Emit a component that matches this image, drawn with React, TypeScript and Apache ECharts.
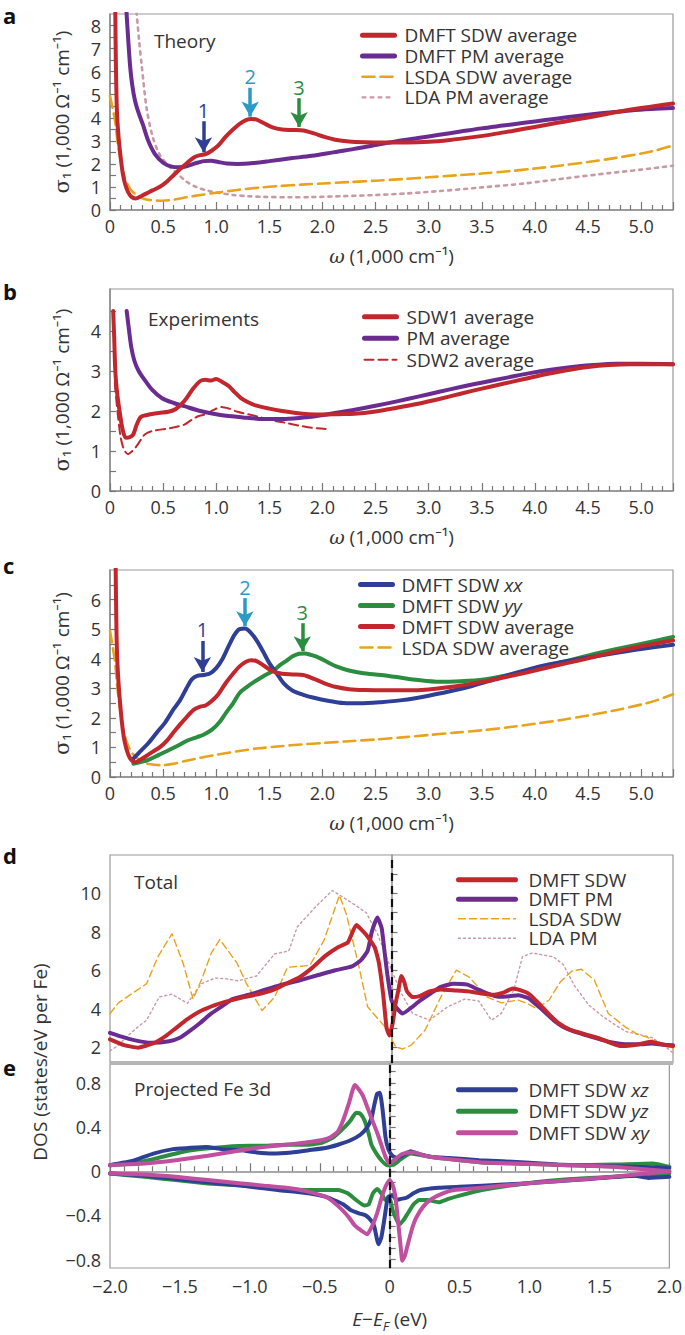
import React, { useEffect, useRef } from 'react';
import * as echarts from 'echarts';

// ---------- data: panel a (theory) ----------
const SDW_AVG: number[][] = [
  [0.05, 8.6], [0.055, 6.5], [0.065, 4.3], [0.08, 3.2], [0.1, 2.3], [0.12, 1.6], [0.14, 1.16], [0.17, 0.78], [0.2, 0.58], [0.24, 0.5],
  [0.3, 0.62], [0.345, 0.72], [0.4, 0.85], [0.47, 1.01], [0.54, 1.25], [0.6, 1.52], [0.66, 1.78], [0.72, 2.02], [0.79, 2.28], [0.85, 2.38],
  [0.9, 2.42], [0.96, 2.58], [1.02, 2.8], [1.09, 3.18], [1.16, 3.5], [1.22, 3.74], [1.28, 3.9], [1.33, 3.95], [1.38, 3.92], [1.45, 3.76],
  [1.53, 3.58], [1.62, 3.49], [1.72, 3.47], [1.82, 3.45], [1.92, 3.32], [2.02, 3.17], [2.12, 3.05], [2.25, 2.97], [2.4, 2.94], [2.6, 2.93],
  [2.8, 2.93], [3.0, 2.96], [3.2, 3.04], [3.4, 3.15], [3.6, 3.28], [3.8, 3.44], [4.0, 3.6], [4.2, 3.77], [4.4, 3.93], [4.6, 4.1],
  [4.8, 4.27], [5.0, 4.42], [5.15, 4.52], [5.3, 4.62],
];
const PM_AVG: number[][] = [
  [0.155, 8.6], [0.17, 7.5], [0.19, 6.2], [0.21, 5.4], [0.235, 4.75], [0.27, 4.2], [0.31, 3.7], [0.36, 3.0], [0.42, 2.45], [0.5, 2.05],
  [0.58, 1.88], [0.65, 1.85], [0.72, 1.9], [0.8, 2.02], [0.88, 2.12], [0.95, 2.14], [1.02, 2.08], [1.1, 2.02], [1.2, 2.0], [1.35, 2.04],
  [1.5, 2.12], [1.7, 2.24], [1.9, 2.35], [2.1, 2.5], [2.3, 2.65], [2.5, 2.82], [2.7, 2.98], [2.9, 3.12], [3.1, 3.26], [3.3, 3.4],
  [3.5, 3.54], [3.7, 3.66], [3.9, 3.78], [4.1, 3.9], [4.3, 4.02], [4.5, 4.13], [4.7, 4.23], [4.9, 4.32], [5.1, 4.38], [5.3, 4.42],
];
const LSDA_AVG: number[][] = [
  [0.0, 4.95], [0.025, 4.4], [0.047, 3.9], [0.07, 3.0], [0.094, 2.31], [0.125, 1.6], [0.16, 1.16], [0.2, 0.85], [0.25, 0.65], [0.31, 0.5],
  [0.38, 0.43], [0.5, 0.4], [0.6, 0.45], [0.72, 0.55], [0.85, 0.65], [1.0, 0.75], [1.2, 0.87], [1.4, 0.97], [1.6, 1.04], [1.8, 1.1],
  [2.0, 1.15], [2.25, 1.21], [2.5, 1.27], [2.75, 1.34], [3.0, 1.42], [3.25, 1.5], [3.5, 1.58], [3.75, 1.68], [4.0, 1.8], [4.25, 1.93],
  [4.5, 2.08], [4.75, 2.25], [5.0, 2.45], [5.15, 2.6], [5.3, 2.8],
];
const LDA_AVG: number[][] = [
  [0.25, 8.6], [0.275, 7.3], [0.3, 6.2], [0.345, 4.4], [0.4, 3.2], [0.47, 2.38], [0.56, 1.88], [0.64, 1.55], [0.72, 1.23], [0.8, 1.02],
  [0.91, 0.85], [1.03, 0.74], [1.16, 0.65], [1.3, 0.6], [1.45, 0.57], [1.7, 0.55], [1.9, 0.56], [2.2, 0.6], [2.5, 0.65], [2.8, 0.72],
  [3.1, 0.82], [3.5, 0.98], [3.9, 1.15], [4.3, 1.38], [4.7, 1.6], [5.0, 1.75], [5.3, 1.92],
];

// ---------- data: panel b (experiments) ----------
const EXP_SDW1: number[][] = [
  [0.03, 4.5], [0.04, 3.8], [0.05, 3.0], [0.065, 2.5], [0.09, 2.0], [0.12, 1.52], [0.15, 1.33], [0.19, 1.35], [0.22, 1.42], [0.25, 1.65],
  [0.29, 1.85], [0.35, 1.9], [0.46, 1.95], [0.55, 1.98], [0.62, 2.05], [0.7, 2.25], [0.78, 2.55], [0.85, 2.75], [0.9, 2.78], [0.95, 2.76],
  [1.0, 2.8], [1.06, 2.72], [1.12, 2.62], [1.17, 2.48], [1.23, 2.33], [1.3, 2.22], [1.37, 2.14], [1.5, 2.06], [1.62, 2.0], [1.75, 1.95],
  [1.87, 1.92], [2.0, 1.91], [2.15, 1.92], [2.3, 1.93], [2.5, 1.99], [2.7, 2.08], [2.9, 2.18], [3.1, 2.3], [3.3, 2.43], [3.5, 2.56],
  [3.7, 2.68], [3.9, 2.8], [4.1, 2.92], [4.3, 3.02], [4.5, 3.1], [4.7, 3.15], [4.9, 3.17], [5.1, 3.17], [5.3, 3.17],
];
const EXP_PM: number[][] = [
  [0.157, 4.5], [0.18, 4.0], [0.2, 3.6], [0.23, 3.25], [0.27, 3.0], [0.32, 2.8], [0.4, 2.52], [0.49, 2.32], [0.6, 2.2], [0.7, 2.12],
  [0.85, 2.0], [1.04, 1.9], [1.25, 1.84], [1.45, 1.8], [1.65, 1.8], [1.87, 1.85], [2.05, 1.92], [2.28, 2.02], [2.5, 2.13], [2.7, 2.24],
  [2.9, 2.36], [3.1, 2.48], [3.3, 2.6], [3.52, 2.72], [3.75, 2.84], [3.94, 2.94], [4.15, 3.03], [4.35, 3.1], [4.55, 3.15], [4.77, 3.18],
  [5.0, 3.18], [5.3, 3.17],
];
const EXP_SDW2: number[][] = [
  [0.045, 2.7], [0.07, 2.0], [0.1, 1.35], [0.13, 1.05], [0.17, 0.92], [0.21, 1.0], [0.25, 1.12], [0.29, 1.28], [0.33, 1.42], [0.4, 1.5],
  [0.54, 1.56], [0.62, 1.6], [0.7, 1.66], [0.77, 1.78], [0.83, 1.87], [0.9, 1.92], [0.97, 2.02], [1.05, 2.1], [1.12, 2.06], [1.2, 1.98],
  [1.3, 1.92], [1.42, 1.84], [1.54, 1.76], [1.66, 1.7], [1.79, 1.63], [1.9, 1.58], [2.03, 1.55],
];

// ---------- data: panel c (anisotropy) ----------
const SDW_XX: number[][] = [
  [0.22, 0.62], [0.28, 0.85], [0.36, 1.14], [0.44, 1.5], [0.52, 1.85], [0.6, 2.3], [0.66, 2.6], [0.72, 3.0], [0.77, 3.3], [0.82, 3.42],
  [0.88, 3.45], [0.94, 3.5], [1.0, 3.68], [1.06, 4.0], [1.12, 4.45], [1.17, 4.8], [1.22, 5.0], [1.27, 5.02], [1.32, 4.9], [1.38, 4.62],
  [1.44, 4.25], [1.5, 3.85], [1.57, 3.5], [1.64, 3.15], [1.72, 2.92], [1.82, 2.78], [1.92, 2.68], [2.05, 2.58], [2.2, 2.5], [2.35, 2.49],
  [2.55, 2.53], [2.75, 2.6], [3.0, 2.75], [3.2, 2.9], [3.4, 3.07], [3.6, 3.28], [3.8, 3.5], [4.0, 3.7], [4.2, 3.85], [4.4, 3.98],
  [4.6, 4.1], [4.8, 4.22], [5.0, 4.33], [5.3, 4.47],
];
const SDW_YY: number[][] = [
  [0.22, 0.45], [0.28, 0.5], [0.36, 0.58], [0.46, 0.75], [0.56, 0.92], [0.66, 1.1], [0.74, 1.25], [0.82, 1.35], [0.88, 1.43], [0.96, 1.6],
  [1.03, 1.85], [1.09, 2.16], [1.16, 2.5], [1.22, 2.84], [1.29, 3.05], [1.35, 3.2], [1.44, 3.4], [1.53, 3.58], [1.6, 3.78], [1.66, 3.93],
  [1.72, 4.08], [1.78, 4.17], [1.83, 4.18], [1.9, 4.12], [1.97, 4.03], [2.05, 3.88], [2.13, 3.74], [2.25, 3.6], [2.37, 3.52], [2.55, 3.45],
  [2.7, 3.38], [2.9, 3.28], [3.1, 3.22], [3.3, 3.24], [3.52, 3.3], [3.75, 3.45], [3.94, 3.62], [4.15, 3.8], [4.35, 3.97], [4.55, 4.15],
  [4.77, 4.33], [5.0, 4.5], [5.3, 4.74],
];

// ---------- data: panel d (total DOS) ----------
const DOS_SDW: number[][] = [
  [-2.0, 2.4], [-1.9, 2.1], [-1.8, 1.97], [-1.69, 2.2], [-1.6, 2.6], [-1.53, 3.0], [-1.45, 3.45], [-1.37, 3.83], [-1.25, 4.2], [-1.15, 4.42],
  [-1.06, 4.58], [-0.95, 4.75], [-0.84, 4.98], [-0.75, 5.3], [-0.65, 5.65], [-0.56, 6.15], [-0.47, 6.75], [-0.38, 7.2], [-0.31, 7.45], [-0.25, 8.35],
  [-0.18, 7.85], [-0.12, 7.2], [-0.09, 6.4], [-0.06, 4.8], [-0.035, 3.0], [-0.015, 2.6], [0.01, 3.3], [0.03, 4.3], [0.05, 5.0], [0.07, 5.7],
  [0.09, 5.4], [0.11, 4.9], [0.15, 4.6], [0.2, 4.65], [0.27, 4.9], [0.35, 5.0], [0.45, 4.95], [0.54, 4.9], [0.63, 4.8], [0.72, 4.72],
  [0.8, 4.85], [0.86, 5.05], [0.92, 4.95], [0.98, 4.75], [1.05, 4.25], [1.12, 3.7], [1.19, 3.23], [1.27, 2.9], [1.35, 2.72], [1.43, 2.55],
  [1.51, 2.36], [1.57, 2.18], [1.63, 2.05], [1.7, 2.08], [1.76, 2.15], [1.84, 2.28], [1.92, 2.15], [2.0, 2.05],
];
const DOS_PM: number[][] = [
  [-2.0, 2.74], [-1.9, 2.5], [-1.83, 2.36], [-1.71, 2.22], [-1.58, 2.3], [-1.5, 2.5], [-1.44, 2.8], [-1.36, 3.25], [-1.28, 3.75], [-1.2, 4.15],
  [-1.13, 4.5], [-1.0, 4.75], [-0.91, 4.96], [-0.78, 5.25], [-0.65, 5.48], [-0.52, 5.75], [-0.4, 6.0], [-0.28, 6.2], [-0.22, 6.5], [-0.17, 7.0],
  [-0.14, 8.0], [-0.1, 8.74], [-0.07, 8.2], [-0.05, 7.0], [-0.03, 5.8], [0.0, 4.44], [0.04, 4.0], [0.08, 3.75], [0.14, 4.05], [0.2, 4.4],
  [0.28, 4.8], [0.35, 5.13], [0.44, 5.3], [0.54, 5.25], [0.6, 5.05], [0.68, 4.8], [0.76, 4.62], [0.84, 4.65], [0.9, 4.7], [0.97, 4.55],
  [1.03, 4.2], [1.1, 3.75], [1.16, 3.35], [1.22, 3.05], [1.3, 2.8], [1.38, 2.62], [1.46, 2.45], [1.54, 2.28], [1.6, 2.2], [1.67, 2.15],
  [1.76, 2.15], [1.85, 2.18], [1.93, 2.12], [2.0, 2.1],
];
const DOS_LSDA: number[][] = [
  [-2.0, 3.75], [-1.94, 4.3], [-1.88, 4.6], [-1.81, 4.95], [-1.74, 5.3], [-1.66, 6.7], [-1.56, 7.9], [-1.48, 6.35], [-1.41, 4.5], [-1.35, 5.5],
  [-1.28, 6.9], [-1.22, 7.6], [-1.17, 7.1], [-1.1, 6.4], [-1.03, 5.3], [-0.92, 3.9], [-0.83, 4.6], [-0.74, 6.15], [-0.66, 6.2], [-0.58, 6.25],
  [-0.48, 7.55], [-0.37, 9.9], [-0.32, 8.9], [-0.23, 6.15], [-0.17, 4.1], [-0.1, 3.5], [-0.04, 3.0], [0.03, 2.0], [0.08, 1.9], [0.14, 2.1],
  [0.24, 2.9], [0.35, 4.6], [0.46, 6.0], [0.55, 5.65], [0.62, 5.1], [0.68, 4.6], [0.78, 4.3], [0.9, 4.45], [0.97, 4.25], [1.03, 4.0],
  [1.12, 4.45], [1.2, 5.4], [1.28, 5.95], [1.35, 6.05], [1.44, 5.5], [1.54, 3.75], [1.66, 3.05], [1.74, 2.7], [1.82, 2.5], [1.9, 2.2],
  [1.98, 2.0], [2.0, 1.9],
];
const DOS_LDA: number[][] = [
  [-2.0, 1.8], [-1.94, 2.1], [-1.88, 2.54], [-1.81, 3.0], [-1.74, 3.4], [-1.65, 4.61], [-1.56, 4.75], [-1.5, 4.5], [-1.45, 4.27], [-1.4, 4.8],
  [-1.35, 5.3], [-1.25, 5.6], [-1.17, 5.55], [-1.09, 5.45], [-0.96, 5.7], [-0.83, 6.85], [-0.73, 7.0], [-0.67, 8.25], [-0.54, 9.3], [-0.42, 10.15],
  [-0.29, 9.55], [-0.18, 9.0], [-0.1, 7.9], [-0.01, 6.2], [0.07, 4.8], [0.15, 3.75], [0.27, 3.4], [0.4, 4.1], [0.52, 4.5], [0.62, 4.4],
  [0.71, 3.4], [0.78, 3.75], [0.87, 5.0], [0.93, 6.7], [1.0, 6.9], [1.15, 6.7], [1.22, 6.3], [1.3, 5.2], [1.4, 4.2], [1.5, 3.6],
  [1.6, 3.1], [1.67, 2.8], [1.76, 2.65], [1.85, 2.5], [1.93, 2.1], [2.0, 1.7],
];

// ---------- data: panel e (projected Fe 3d, spin up > 0, spin down < 0) ----------
const XZ_UP: number[][] = [
  [-2.0, 0.055], [-1.85, 0.09], [-1.69, 0.16], [-1.55, 0.2], [-1.44, 0.21], [-1.31, 0.22], [-1.2, 0.2], [-1.06, 0.19], [-0.95, 0.17], [-0.84, 0.16],
  [-0.7, 0.17], [-0.58, 0.19], [-0.46, 0.21], [-0.37, 0.24], [-0.28, 0.28], [-0.21, 0.33], [-0.16, 0.4], [-0.13, 0.48], [-0.11, 0.6], [-0.09, 0.7],
  [-0.07, 0.71], [-0.05, 0.55], [-0.03, 0.31], [-0.01, 0.2], [0.02, 0.14], [0.05, 0.12], [0.1, 0.15], [0.15, 0.18], [0.2, 0.16], [0.3, 0.13],
  [0.42, 0.12], [0.64, 0.1], [0.97, 0.08], [1.2, 0.06], [1.44, 0.05], [1.75, 0.04], [2.0, 0.03],
];
const YZ_UP: number[][] = [
  [-2.0, 0.055], [-1.85, 0.07], [-1.69, 0.11], [-1.5, 0.17], [-1.35, 0.2], [-1.18, 0.22], [-1.0, 0.23], [-0.9, 0.23], [-0.75, 0.24], [-0.58, 0.24],
  [-0.48, 0.26], [-0.4, 0.31], [-0.33, 0.39], [-0.28, 0.46], [-0.24, 0.53], [-0.21, 0.52], [-0.18, 0.46], [-0.15, 0.34], [-0.13, 0.24], [-0.09, 0.15],
  [-0.06, 0.1], [-0.02, 0.055], [0.03, 0.06], [0.08, 0.11], [0.15, 0.16], [0.25, 0.14], [0.35, 0.12], [0.5, 0.1], [0.66, 0.08], [0.9, 0.07],
  [1.27, 0.055], [1.6, 0.06], [1.88, 0.07], [2.0, 0.04],
];
const XY_UP: number[][] = [
  [-2.0, 0.055], [-1.75, 0.07], [-1.53, 0.1], [-1.3, 0.14], [-1.06, 0.19], [-0.9, 0.22], [-0.74, 0.24], [-0.6, 0.26], [-0.49, 0.28], [-0.42, 0.31],
  [-0.37, 0.36], [-0.33, 0.47], [-0.29, 0.62], [-0.25, 0.78], [-0.22, 0.74], [-0.19, 0.68], [-0.16, 0.58], [-0.13, 0.48], [-0.09, 0.35], [-0.06, 0.24],
  [-0.03, 0.13], [0.0, 0.07], [0.04, 0.11], [0.08, 0.15], [0.13, 0.17], [0.18, 0.17], [0.25, 0.14], [0.35, 0.12], [0.5, 0.1], [0.66, 0.08],
  [1.0, 0.065], [1.27, 0.055], [1.6, 0.04], [2.0, 0.0],
];
const XZ_DN: number[][] = [
  [-2.0, -0.02], [-1.75, -0.04], [-1.53, -0.07], [-1.3, -0.1], [-1.06, -0.13], [-0.8, -0.17], [-0.58, -0.2], [-0.46, -0.23], [-0.4, -0.26], [-0.33, -0.3],
  [-0.28, -0.35], [-0.22, -0.38], [-0.17, -0.4], [-0.13, -0.45], [-0.11, -0.5], [-0.09, -0.62], [-0.08, -0.66], [-0.06, -0.6], [-0.04, -0.45], [-0.02, -0.28],
  [-0.01, -0.23], [0.02, -0.22], [0.05, -0.26], [0.08, -0.25], [0.12, -0.24], [0.17, -0.2], [0.22, -0.17], [0.35, -0.15], [0.5, -0.14], [0.66, -0.13],
  [0.97, -0.11], [1.2, -0.09], [1.44, -0.07], [1.75, -0.04], [1.85, -0.06], [2.0, -0.05],
];
const YZ_DN: number[][] = [
  [-2.0, -0.02], [-1.75, -0.05], [-1.53, -0.08], [-1.3, -0.11], [-1.06, -0.13], [-0.8, -0.16], [-0.58, -0.17], [-0.45, -0.17], [-0.37, -0.17], [-0.3, -0.2],
  [-0.24, -0.26], [-0.18, -0.31], [-0.15, -0.3], [-0.12, -0.2], [-0.09, -0.16], [-0.06, -0.2], [-0.03, -0.26], [0.0, -0.25], [0.02, -0.35], [0.05, -0.44],
  [0.07, -0.48], [0.1, -0.44], [0.13, -0.38], [0.17, -0.3], [0.21, -0.26], [0.27, -0.26], [0.35, -0.28], [0.42, -0.25], [0.5, -0.22], [0.66, -0.17],
  [0.97, -0.11], [1.3, -0.07], [1.6, -0.05], [2.0, -0.02],
];
const XY_DN: number[][] = [
  [-2.0, -0.02], [-1.75, -0.03], [-1.53, -0.05], [-1.3, -0.08], [-1.06, -0.11], [-0.9, -0.13], [-0.74, -0.15], [-0.6, -0.18], [-0.46, -0.23], [-0.4, -0.28],
  [-0.34, -0.35], [-0.29, -0.42], [-0.25, -0.49], [-0.2, -0.54], [-0.16, -0.57], [-0.12, -0.48], [-0.09, -0.38], [-0.06, -0.25], [-0.03, -0.14], [0.0, -0.08],
  [0.02, -0.12], [0.04, -0.22], [0.06, -0.45], [0.08, -0.7], [0.09, -0.81], [0.11, -0.76], [0.13, -0.66], [0.16, -0.52], [0.19, -0.42], [0.24, -0.32],
  [0.3, -0.25], [0.38, -0.2], [0.46, -0.17], [0.66, -0.15], [0.97, -0.11], [1.3, -0.08], [1.6, -0.05], [2.0, 0.0],
];

// ---------- tick labels ----------
const Y_LABELS_A = [0, 1, 2, 3, 4, 5, 6, 7, 8];
const Y_TICKS_A = [0, 0.5, 1, 1.5, 2, 2.5, 3, 3.5, 4, 4.5, 5, 5.5, 6, 6.5, 7, 7.5, 8];
const Y_LABELS_B = [0, 1, 2, 3, 4];
const Y_TICKS_B = [0, 0.5, 1, 1.5, 2, 2.5, 3, 3.5, 4, 4.5];
const Y_LABELS_C = [0, 1, 2, 3, 4, 5, 6];
const Y_TICKS_C = [0, 0.5, 1, 1.5, 2, 2.5, 3, 3.5, 4, 4.5, 5, 5.5, 6, 6.5];
const Y_LABELS_D = [2, 4, 6, 8, 10];
const Y_TICKS_D = [2, 3, 4, 5, 6, 7, 8, 9, 10, 11];
const Y_LABELS_E = [-0.8, -0.4, 0, 0.4, 0.8];
const Y_TICKS_E = [-0.8, -0.7, -0.6, -0.5, -0.4, -0.3, -0.2, -0.1, 0, 0.1, 0.2, 0.3, 0.4, 0.5, 0.6, 0.7, 0.8, 0.9];

// arrows: [x, yTop, yTip, label]
const ARROWS_A: (number | string)[][] = [[0.88, 3.85, 2.5, '1'], [1.32, 5.3, 4.05, '2'], [1.78, 4.85, 3.6, '3']];
const ARROWS_C: (number | string)[][] = [[0.87, 4.6, 3.55, '1'], [1.27, 6.05, 5.1, '2'], [1.81, 5.2, 4.25, '3']];

// ---------- styles ----------
const FONT = '"Open Sans", "Noto Sans", sans-serif';
const TXT = '#333333';
const RED = '#c1272d';
const PURPLE = '#6a2c91';
const ORANGE = '#e8a31c';
const PINK = '#c99aa6';
const BLUE = '#2e3f95';
const GREEN = '#2b8d3f';
const MAGENTA = '#c0509f';
const LBLUE = '#2a9bc6';
const ARROW_COLORS = [BLUE, LBLUE, GREEN];

const GRIDS = [
  { top: 14, height: 196 },
  { top: 289, height: 202 },
  { top: 570, height: 207 },
  { top: 855, height: 208 },
  { top: 1064, height: 204 },
];

const fmtNum = (v: number) => (v === 0 ? '0' : (v < 0 ? '\u2212' : '') + Math.abs(v).toFixed(1));

function buildOption() {
  const axisLine = { show: true, lineStyle: { color: '#8a8a8a', width: 1.5 } };
  const tickStyle = { color: '#777', width: 1.2 };
  const omegaName = {
    name: '{w|\u03c9} (1,000 cm\u207b\u00b9)',
    nameLocation: 'middle',
    nameGap: 36,
    nameTextStyle: {
      fontSize: 19, color: TXT, fontFamily: FONT,
      rich: { w: { fontFamily: '"DejaVu Serif", serif', fontStyle: 'italic', fontSize: 19, color: TXT } },
    },
  };
  const sigmaName = {
    name: '{s|\u03c3}\u2081 (1,000 \u03a9\u207b\u00b9 cm\u207b\u00b9)',
    nameLocation: 'middle',
    nameGap: 38,
    nameTextStyle: {
      fontSize: 19, color: TXT, fontFamily: FONT,
      rich: { s: { fontFamily: '"DejaVu Serif", serif', fontSize: 21, color: TXT } },
    },
  };
  const omegaX = (i: number) => ({
    type: 'value', gridIndex: i, min: 0, max: 5.3, interval: 0.5,
    axisLine, splitLine: { show: false }, minorSplitLine: { show: false },
    axisTick: { show: true, inside: true, length: 8, lineStyle: tickStyle },
    minorTick: { show: true, splitNumber: 5, length: 5, lineStyle: tickStyle },
    axisLabel: { fontSize: 18, color: TXT, fontFamily: FONT, margin: 7, showMaxLabel: false, formatter: (v: number) => fmtNum(v) },
    ...omegaName,
  });
  const yAx = (i: number, min: number, max: number, labels: number[], ticks: number[], fmt: (v: number) => string, extra: any = {}) => ({
    type: 'value', gridIndex: i, min, max,
    axisLine, splitLine: { show: false },
    axisTick: { show: true, inside: true, length: 6, lineStyle: tickStyle, customValues: ticks },
    axisLabel: { fontSize: 18, color: TXT, fontFamily: FONT, margin: 9, customValues: labels, formatter: fmt },
    ...extra,
  });

  const line = (name: string, data: number[][], idx: number, color: string, width: number, type: any = 'solid', smooth: number | boolean = 0.3, z = 2) => ({
    type: 'line', name, data, xAxisIndex: idx, yAxisIndex: idx, symbol: 'none', showSymbol: false,
    smooth, clip: true, z, lineStyle: { color, width, type, cap: 'round', join: 'round' }, itemStyle: { color },
  });

  const arrowMark = (arrows: (number | string)[][]) => ({
    silent: true,
    symbol: ['none', 'arrow'],
    symbolSize: [13, 15],
    animation: false,
    data: arrows.map((a, k) => {
      const style = {
        lineStyle: { color: ARROW_COLORS[k], width: 3.5, type: 'solid' },
        itemStyle: { color: ARROW_COLORS[k] },
        label: { show: true, position: 'start', formatter: String(a[3]), color: ARROW_COLORS[k], fontSize: 20, fontFamily: FONT, distance: 1 },
      };
      return [
        { coord: [a[0], a[1]], ...style },
        { coord: [a[0], a[2]], ...style },
      ];
    }),
  });

  const efMark = {
    silent: true, symbol: ['none', 'none'], animation: false,
    lineStyle: { color: '#111', width: 2.2, type: [8, 5] },
    label: { show: false },
    data: [{ xAxis: 0 }],
  };

  const sdwA: any = line('DMFT SDW average', SDW_AVG, 0, RED, 4, 'solid', 0.3, 4);
  sdwA.markLine = arrowMark(ARROWS_A);
  const sdwC: any = line('DMFT SDW average', SDW_AVG, 2, RED, 4, 'solid', 0.3, 4);
  sdwC.markLine = arrowMark(ARROWS_C);
  const pmD: any = line('DMFT PM', DOS_PM, 3, PURPLE, 4, 'solid', 0.15, 3);
  pmD.markLine = efMark;
  const xyUpE: any = line('DMFT SDW xy', XY_UP, 4, MAGENTA, 4, 'solid', 0.15, 4);
  xyUpE.markLine = efMark;

  // legend entries: [name, icon line width]
  const legendBase = (left: number, top: number, data: (string | number)[][], iw: number, lh: number, pad: number) => ({
    left, top, orient: 'vertical', itemWidth: iw, itemHeight: 14, itemGap: 0, padding: 0,
    selectedMode: false,
    data: data.map((d) => ({ name: d[0], lineStyle: { width: d[1] } })),
    itemStyle: { opacity: 0, borderWidth: 0 },
    formatter: (name: string) => {
      const m = name.match(/^(DMFT SDW) (xx|yy|xz|yz|xy)$/);
      return m ? `${m[1]} {i|${m[2]}}` : name;
    },
    textStyle: {
      fontSize: 19, color: TXT, fontFamily: FONT, lineHeight: lh, padding: [0, 0, 0, pad],
      rich: { i: { fontStyle: 'italic', fontSize: 19, color: TXT, fontFamily: FONT, lineHeight: lh } },
    },
  });

  const label = (text: string, left: number, top: number) => ({
    type: 'text', left, top, silent: true,
    style: { text, fontSize: 22, fontWeight: 'bold', fill: '#111', fontFamily: FONT },
  });
  const note = (text: string, left: number, top: number) => ({
    type: 'text', left, top, silent: true,
    style: { text, fontSize: 19, fill: TXT, fontFamily: FONT },
  });

  return {
    animation: false,
    backgroundColor: '#ffffff',
    grid: GRIDS.map((g) => ({ left: 110, width: 563, top: g.top, height: g.height, show: true, borderColor: '#9a9a9a', borderWidth: 1.2, backgroundColor: 'transparent' })),
    xAxis: [
      omegaX(0), omegaX(1), omegaX(2),
      { type: 'value', gridIndex: 3, min: -2, max: 2, axisLine: { show: false }, axisTick: { show: false }, axisLabel: { show: false }, splitLine: { show: false } },
      {
        type: 'value', gridIndex: 4, min: -2, max: 2, interval: 0.5,
        axisLine, splitLine: { show: false }, minorSplitLine: { show: false },
        axisTick: { show: true, inside: true, length: 8, lineStyle: tickStyle },
        minorTick: { show: true, splitNumber: 5, length: 5, lineStyle: tickStyle },
        axisLabel: { fontSize: 18, color: TXT, fontFamily: FONT, margin: 9, formatter: (v: number) => fmtNum(v) },
        name: '{i|E}\u2212{i|E}{f|F} (eV)',
        nameLocation: 'middle', nameGap: 38,
        nameTextStyle: {
          fontSize: 19, color: TXT, fontFamily: FONT, lineHeight: 26,
          rich: {
            i: { fontStyle: 'italic', fontSize: 19, color: TXT, fontFamily: FONT, lineHeight: 26 },
            f: { fontStyle: 'italic', fontSize: 13, color: TXT, fontFamily: FONT, lineHeight: 14, verticalAlign: 'bottom' },
          },
        },
      },
    ],
    yAxis: [
      yAx(0, 0, 8.5, Y_LABELS_A, Y_TICKS_A, (v) => String(v), sigmaName),
      yAx(1, 0, 5.05, Y_LABELS_B, Y_TICKS_B, (v) => String(v), sigmaName),
      yAx(2, 0, 7, Y_LABELS_C, Y_TICKS_C, (v) => String(v), sigmaName),
      yAx(3, 1.17, 12, Y_LABELS_D, Y_TICKS_D, (v) => String(v)),
      yAx(4, -0.875, 0.97, Y_LABELS_E, Y_TICKS_E, (v) => fmtNum(v)),
    ],
    legend: [
      legendBase(360, 25, [['DMFT SDW average', 5], ['DMFT PM average', 5], ['LSDA SDW average', 2.6], ['LDA PM average', 2.2]], 32, 20.7, 5),
      legendBase(362, 306, [['SDW1 average', 5], ['PM average', 5], ['SDW2 average', 2]], 32, 21.5, 5),
      legendBase(358, 574, [['DMFT SDW xx', 5], ['DMFT SDW yy', 5], ['DMFT SDW average', 5], ['LSDA SDW average', 2.6]], 32, 21, 4),
      legendBase(456, 870, [['DMFT SDW', 5], ['DMFT PM', 5], ['LSDA SDW', 1.4], ['LDA PM', 1.4]], 57, 19.5, 8),
      legendBase(456, 1079, [['DMFT SDW xz', 5], ['DMFT SDW yz', 5], ['DMFT SDW xy', 5]], 57, 21.5, 8),
    ],
    series: [
      // a
      line('LDA PM average', LDA_AVG, 0, PINK, 2.6, [3, 5], 0.3, 1),
      line('LSDA SDW average', LSDA_AVG, 0, ORANGE, 2.6, [12, 6], 0.3, 2),
      line('DMFT PM average', PM_AVG, 0, PURPLE, 4, 'solid', 0.3, 3),
      sdwA,
      // b
      line('SDW2 average', EXP_SDW2, 1, RED, 2, [9, 5], 0.3, 2),
      line('PM average', EXP_PM, 1, PURPLE, 4, 'solid', 0.3, 3),
      line('SDW1 average', EXP_SDW1, 1, RED, 4, 'solid', 0.3, 4),
      // c
      line('LSDA SDW average', LSDA_AVG, 2, ORANGE, 2.6, [12, 6], 0.3, 2),
      line('DMFT SDW yy', SDW_YY, 2, GREEN, 4, 'solid', 0.3, 3),
      line('DMFT SDW xx', SDW_XX, 2, BLUE, 4, 'solid', 0.3, 3),
      sdwC,
      // d
      line('LDA PM', DOS_LDA, 3, PINK, 1.4, [2, 3], false, 1),
      line('LSDA SDW', DOS_LSDA, 3, ORANGE, 1.4, [7, 4], false, 2),
      pmD,
      line('DMFT SDW', DOS_SDW, 3, RED, 4, 'solid', 0.15, 4),
      // e
      line('DMFT SDW yz', YZ_UP, 4, GREEN, 4, 'solid', 0.15, 2),
      line('DMFT SDW yz', YZ_DN, 4, GREEN, 4, 'solid', 0.15, 2),
      line('DMFT SDW xz', XZ_UP, 4, BLUE, 4, 'solid', 0.15, 3),
      line('DMFT SDW xz', XZ_DN, 4, BLUE, 4, 'solid', 0.15, 3),
      xyUpE,
      line('DMFT SDW xy', XY_DN, 4, MAGENTA, 4, 'solid', 0.15, 4),
    ],
    graphic: [
      label('a', 3, 4),
      label('b', 3, 280),
      label('c', 3, 554),
      label('d', 3, 844),
      label('e', 3, 1056),
      note('Theory', 154, 31),
      note('Experiments', 148, 309),
      note('Total', 134, 872),
      note('Projected Fe 3d', 134, 1079),
      { type: 'rect', silent: true, shape: { x: 110, y: 1061, width: 563, height: 4 }, style: { fill: '#b5b5b5' } },
      {
        type: 'text', silent: true, x: 40, y: 1062, rotation: Math.PI / 2,
        style: { text: 'DOS (states/eV per Fe)', fontSize: 19, fill: TXT, fontFamily: FONT, align: 'center', verticalAlign: 'middle' },
      },
    ],
  };
}

export default function App() {
  const ref = useRef<HTMLDivElement>(null);
  useEffect(() => {
    if (!ref.current) return;
    const chart = echarts.init(ref.current, null, { renderer: 'svg' });
    chart.setOption(buildOption() as any);
    return () => chart.dispose();
  }, []);
  return <div ref={ref} style={{ position: 'absolute', left: 0, top: 0, width: 685, height: 1335, background: '#fff' }} />;
}
